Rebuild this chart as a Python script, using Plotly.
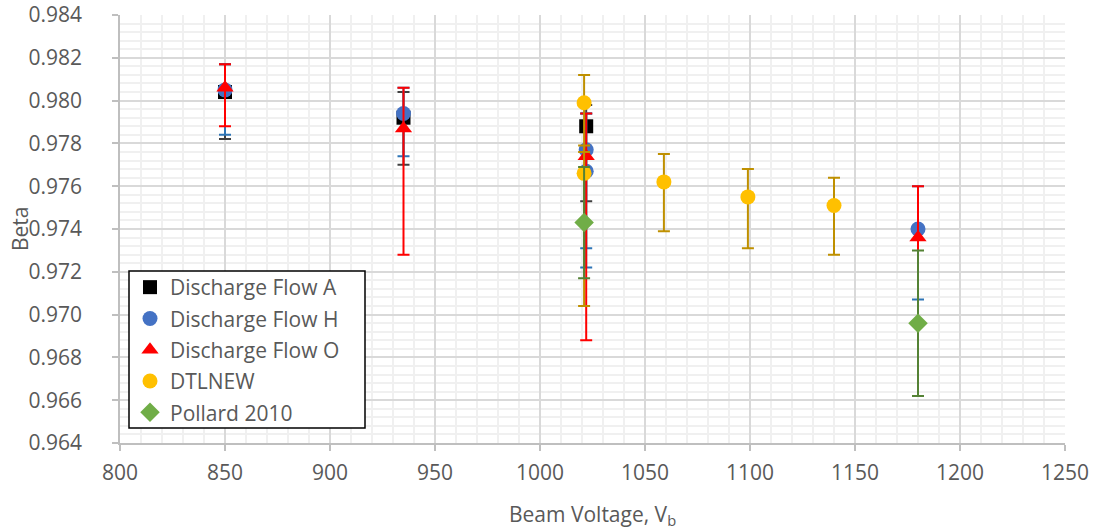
import plotly.graph_objects as go

# ---- data ----
a_x = [850, 935, 1022]
a_y = [0.9804, 0.9792, 0.9788]
a_plus = [0.0013, 0.0012, 0.0010]
a_minus = [0.0022, 0.0022, 0.0035]

h_x = [850, 935, 1022, 1022, 1180]
h_y = [0.9805, 0.9794, 0.9777, 0.9767, 0.9740]
h_plus = [0.0012, 0.0012, 0.0017, 0.0027, 0.0020]
h_minus = [0.0021, 0.0020, 0.0046, 0.0045, 0.0033]

o_x = [850, 935, 1022, 1180]
o_y = [0.9806, 0.9787, 0.9774, 0.9736]
o_plus = [0.0011, 0.0019, 0.0020, 0.0024]
o_minus = [0.0018, 0.0059, 0.0086, 0.0040]

d_x = [1021, 1021, 1059, 1099, 1140]
d_y = [0.9799, 0.9766, 0.9762, 0.9755, 0.9751]
d_plus = [0.0013, 0.0013, 0.0013, 0.0013, 0.0013]
d_minus = [0.0023, 0.0062, 0.0023, 0.0024, 0.0023]

p_x = [1021, 1180]
p_y = [0.9743, 0.9696]
p_plus = [0.0026, 0.0034]
p_minus = [0.0026, 0.0034]

FONT = "Open Sans"
TXT = "#595959"
W, H = 1095, 531
ML, MR, MT, MB = 120, 30, 15, 88
PW, PH = W - ML - MR, H - MT - MB

def px_x(p):
    return (p - ML) / PW

def px_y(p):
    return (H - MB - p) / PH

def trace(name, x, y, plus, minus, symbol, mcolor, ecolor, size):
    return go.Scatter(
        x=x, y=y, name=name, mode="markers", legendgroup=name,
        marker=dict(symbol=symbol, color=mcolor, size=size, line=dict(width=0)),
        error_y=dict(type="data", symmetric=False, array=plus, arrayminus=minus,
                     color=ecolor, thickness=2, width=6),
    )

fig = go.Figure()
fig.add_trace(trace("Discharge Flow A", a_x, a_y, a_plus, a_minus, "square", "#000000", "#404040", 14))
fig.add_trace(trace("Discharge Flow H", h_x, h_y, h_plus, h_minus, "circle", "#4472C4", "#2E75B6", 15))
fig.add_trace(trace("Discharge Flow O", o_x, o_y, o_plus, o_minus, "triangle-up", "#FF0000", "#FF0000", 15))
fig.add_trace(trace("DTLNEW", d_x, d_y, d_plus, d_minus, "circle", "#FFC000", "#BF9000", 15))
fig.add_trace(trace("Pollard 2010", p_x, p_y, p_plus, p_minus, "diamond", "#70AD47", "#548235", 15))

fig.update_layout(
    width=W, height=H,
    margin=dict(l=ML, r=MR, t=MT, b=MB),
    paper_bgcolor="white", plot_bgcolor="white",
    font=dict(family=FONT, size=21, color=TXT),
    showlegend=True,
    legend=dict(
        x=px_x(130), y=px_y(267), xanchor="left", yanchor="top",
        borderwidth=0, bgcolor="rgba(0,0,0,0)",
        font=dict(family=FONT, size=21, color=TXT),
        tracegroupgap=1, itemsizing="trace",
    ),
    shapes=[dict(
        type="rect", xref="paper", yref="paper", layer="above",
        x0=px_x(129), x1=px_x(365), y0=px_y(271), y1=px_y(428),
        line=dict(color="#000000", width=1.5), fillcolor="white",
    )],
    annotations=[
        dict(text="Beta", xref="paper", yref="paper", x=px_x(20), y=0.5,
             xanchor="center", yanchor="middle", textangle=-90, showarrow=False,
             font=dict(family=FONT, size=21, color=TXT)),
        dict(text="Beam Voltage, V<sub>b</sub>", xref="paper", yref="paper",
             x=0.5, y=px_y(515), xanchor="center", yanchor="middle", showarrow=False,
             font=dict(family=FONT, size=21, color=TXT)),
    ],
)

fig.update_xaxes(
    range=[800, 1250], dtick=50, tick0=800, automargin=False,
    showline=True, linecolor="#BFBFBF", linewidth=1.5,
    ticks="outside", ticklen=6, tickcolor="#BFBFBF", tickwidth=1.5,
    showgrid=True, gridcolor="#D9D9D9", gridwidth=1.5,
    zeroline=False, ticklabelstandoff=4,
    minor=dict(dtick=10, showgrid=True, gridcolor="#F0F0F0", gridwidth=1.5, ticks=""),
    tickfont=dict(family=FONT, size=21, color=TXT),
)
fig.update_yaxes(
    range=[0.964, 0.984], dtick=0.002, tick0=0.964, tickformat=".3f", automargin=False,
    showline=True, linecolor="#BFBFBF", linewidth=1.5,
    ticks="outside", ticklen=6, tickcolor="#BFBFBF", tickwidth=1.5,
    showgrid=True, gridcolor="#D9D9D9", gridwidth=1.5,
    zeroline=False, ticklabelstandoff=26,
    minor=dict(dtick=0.0004, showgrid=True, gridcolor="#F0F0F0", gridwidth=1.5, ticks=""),
    tickfont=dict(family=FONT, size=21, color=TXT),
)

fig.write_html("out.html")
